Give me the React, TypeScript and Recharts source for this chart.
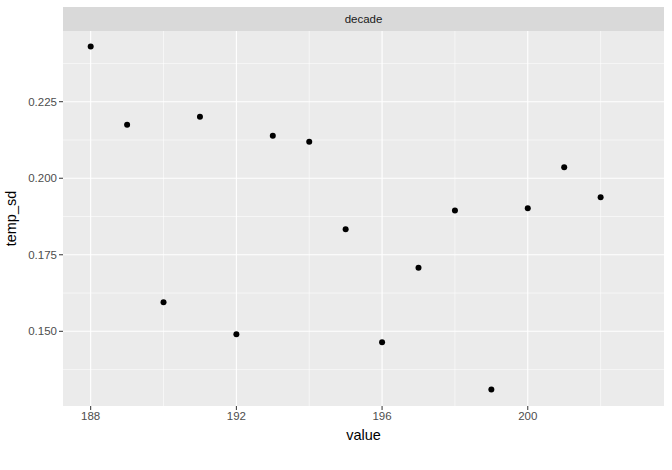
import React from 'react';
import {
  ScatterChart,
  Scatter,
  XAxis,
  YAxis,
  CartesianGrid,
  ReferenceLine,
} from 'recharts';

// decades (value) and sd of temperature
const decades = [188, 189, 190, 191, 192, 193, 194, 195, 196, 197, 198, 199, 200, 201, 202];
const tempSd = [0.243, 0.2175, 0.1595, 0.2201, 0.149, 0.2139, 0.2119, 0.1833, 0.1464, 0.1708, 0.1895, 0.131, 0.1902, 0.2036, 0.1938];

const xTicks = [188, 192, 196, 200];
const xMinor = [190, 194, 198, 202];
const yTicks = [0.15, 0.175, 0.2, 0.225];
const yMinor = [0.1375, 0.1625, 0.1875, 0.2125, 0.2375];

const points = decades.map((d, i) => ({ value: d, temp_sd: tempSd[i] }));

const font = '"Liberation Sans", Arial, sans-serif';

const Dot = (props: any) => <circle cx={props.cx} cy={props.cy} r={3} fill="#000" />;

export default function App() {
  return (
    <div style={{ position: 'absolute', left: 0, top: 0, width: 672, height: 470, background: '#fff', fontFamily: font }}>
      <div
        style={{
          position: 'absolute',
          left: 63,
          top: 7,
          width: 601,
          height: 24,
          background: '#d9d9d9',
          color: '#1a1a1a',
          fontSize: 11.5,
          lineHeight: '24px',
          textAlign: 'center',
        }}
      >
        decade
      </div>
      <ScatterChart width={672} height={470} margin={{ top: 31, right: 8, bottom: 24, left: 0 }}>
        <CartesianGrid fill="#ebebeb" stroke="#ffffff" strokeWidth={1.1} horizontalValues={yTicks} verticalValues={xTicks} />
        {xMinor.map((v) => (
          <ReferenceLine key={'x' + v} x={v} stroke="#ffffff" strokeWidth={0.55} />
        ))}
        {yMinor.map((v) => (
          <ReferenceLine key={'y' + v} y={v} stroke="#ffffff" strokeWidth={0.55} />
        ))}
        <XAxis
          type="number"
          dataKey="value"
          domain={[187.24, 203.74]}
          ticks={xTicks}
          allowDataOverflow
          axisLine={false}
          tickLine={{ stroke: '#333333' }}
          tickSize={4}
          height={40}
          tick={{ fill: '#4d4d4d', fontSize: 11.5, fontFamily: font }}
          label={{ value: 'value', position: 'insideBottom', offset: 6, fill: '#000', fontSize: 14.5, fontFamily: font }}
        />
        <YAxis
          type="number"
          dataKey="temp_sd"
          domain={[0.1256, 0.2481]}
          ticks={yTicks}
          allowDataOverflow
          tickFormatter={(v: number) => v.toFixed(3)}
          axisLine={false}
          tickLine={{ stroke: '#333333' }}
          tickSize={4}
          width={63}
          tick={{ fill: '#4d4d4d', fontSize: 11.5, fontFamily: font }}
          label={{ value: 'temp_sd', angle: -90, position: 'insideLeft', offset: 11, fill: '#000', fontSize: 14.5, fontFamily: font, style: { textAnchor: 'middle' } }}
        />
        <Scatter data={points} shape={Dot} isAnimationActive={false} />
      </ScatterChart>
    </div>
  );
}
